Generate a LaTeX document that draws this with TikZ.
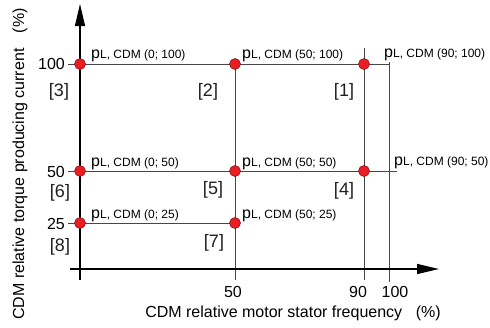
\documentclass[tikz,border=0pt]{standalone}
\usepackage{fontspec}
\setmainfont{Liberation Sans}
\usetikzlibrary{arrows.meta}
\newcommand\plab[1]{{\fontsize{16}{16}\selectfont p}{\fontsize{12}{12}\selectfont L, CDM (#1)}}
\begin{document}
\begin{tikzpicture}[x=1pt,y=-1pt,
  gridline/.style={draw=black!72, line width=0.9pt},
  axisline/.style={draw=black, line width=1.4pt},
  dot/.style={circle, fill={rgb,255:red,232;green,30;blue,36}, draw={rgb,255:red,120;green,10;blue,10}, line width=0.5pt, inner sep=0pt, minimum size=11pt},
  plabel/.style={anchor=base west, inner sep=0pt},
  ticklab/.style={font=\fontsize{16}{16}\selectfont, inner sep=0pt},
  zone/.style={font=\fontsize{18}{18}\selectfont, text=black!88, inner sep=0pt},
  title/.style={font=\fontsize{16}{16}\selectfont, inner sep=0pt}]
\useasboundingbox (0,0) rectangle (490,327);
% end coordinates
\coordinate (ytop) at (80,4);
\coordinate (ybot) at (80,280);
\coordinate (xl) at (70,269);
\coordinate (xr) at (439,269);
\coordinate (v50t) at (235,64);
\coordinate (v50b) at (235,280);
\coordinate (v90t) at (364,48);
\coordinate (v90b) at (364,280);
\coordinate (v100t) at (389,62);
\coordinate (v100b) at (389,282);
\coordinate (h100l) at (68,64);
\coordinate (h100r) at (390,64);
\coordinate (h50l) at (68,171);
\coordinate (h50r) at (397,171);
\coordinate (h25l) at (68,223);
\coordinate (h25r) at (235,223);
% grid lines
\draw[gridline] (v50t) -- (v50b);
\draw[gridline] (v90t) -- (v90b);
\draw[gridline] (v100t) -- (v100b);
\draw[gridline] (h100l) -- (h100r);
\draw[gridline] (h50l) -- (h50r);
\draw[gridline] (h25l) -- (h25r);
% axes
\draw[axisline, -{Triangle[length=22pt,width=10pt]}] (ybot) -- (ytop);
\draw[axisline, -{Triangle[length=22pt,width=10pt]}] (xl) -- (xr);
% dots
\node[dot] (p0a) at (80,64) {};
\node[dot] (p50a) at (235,64) {};
\node[dot] (p90a) at (364,64) {};
\node[dot] (p0b) at (80,171) {};
\node[dot] (p50b) at (235,171) {};
\node[dot] (p90b) at (364,171) {};
\node[dot] (p0c) at (80,223) {};
\node[dot] (p50c) at (235,223) {};
% point labels
\node[plabel] (l0a) at (91,58) {\plab{0; 100}};
\node[plabel] (l50a) at (242,58) {\plab{50; 100}};
\node[plabel] (l90a) at (384,57) {\plab{90; 100}};
\node[plabel] (l0b) at (91,166) {\plab{0; 50}};
\node[plabel] (l50b) at (242,166) {\plab{50; 50}};
\node[plabel] (l90b) at (394,165) {\plab{90; 50}};
\node[plabel] (l0c) at (91,218) {\plab{0; 25}};
\node[plabel] (l50c) at (242,218) {\plab{50; 25}};
% zone labels
\node[zone] (z3) at (59,92) {[3]};
\node[zone] (z2) at (208,92) {[2]};
\node[zone] (z1) at (344,92) {[1]};
\node[zone] (z6) at (60,193) {[6]};
\node[zone] (z5) at (213,190) {[5]};
\node[zone] (z4) at (344,191) {[4]};
\node[zone] (z8) at (60,247) {[8]};
\node[zone] (z7) at (214,243) {[7]};
% tick labels
\node[ticklab, anchor=base east] (t100) at (65,69) {100};
\node[ticklab, anchor=base east] (t50) at (65,177) {50};
\node[ticklab, anchor=base east] (t25) at (65,229) {25};
\node[ticklab, anchor=base] (s50) at (233,297) {50};
\node[ticklab, anchor=base] (s90) at (358,297) {90};
\node[ticklab, anchor=base] (s100) at (395,297) {100};
% axis titles
\node[title, anchor=base] (xt) at (293,317) {CDM relative motor stator frequency\hspace{0.85em}(\%)};
\node[title, rotate=90, anchor=base] (yt) at (24,164) {CDM relative torque producing current\hspace{0.95em}(\%)};
\end{tikzpicture}
\end{document}
